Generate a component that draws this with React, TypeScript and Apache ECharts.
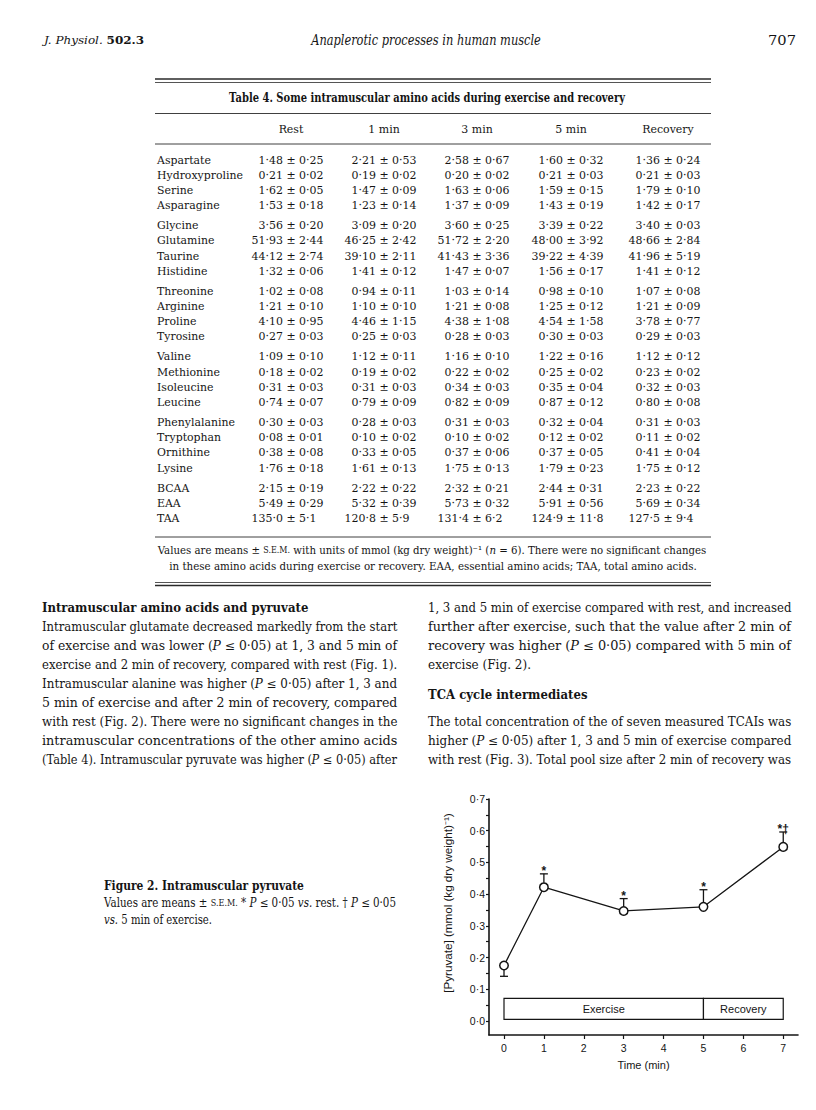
import React, { useEffect, useRef } from 'react';
import * as echarts from 'echarts';

// ---------------- Figure 2 data ----------------
const timeMin = [0, 1, 3, 5, 7];
const pyruvateMean = [0.175, 0.422, 0.347, 0.36, 0.549];
const pyruvateSem = [0.034, 0.042, 0.039, 0.054, 0.047];
const semSide = [-1, 1, 1, 1, 1];
const sigMarks = ['', '*', '*', '*', '*†'];
const phaseLabels = ['Exercise', 'Recovery'];
const phaseFrom = [0, 5];
const phaseTo = [5, 7];
const yTickLabels = [0, 0.1, 0.2, 0.3, 0.4, 0.5, 0.6, 0.7];
const yTickMarks = [0, 0.05, 0.1, 0.15, 0.2, 0.25, 0.3, 0.35, 0.4, 0.45, 0.5, 0.55, 0.6, 0.65, 0.7];
const xTickLabels = [0, 1, 2, 3, 4, 5, 6, 7];

// ---------------- Table 4 data ----------------
const tableHeads = ['Rest', '1 min', '3 min', '5 min', 'Recovery'];
const aminoAcids = ['Aspartate', 'Hydroxyproline', 'Serine', 'Asparagine', 'Glycine', 'Glutamine', 'Taurine', 'Histidine', 'Threonine', 'Arginine', 'Proline', 'Tyrosine', 'Valine', 'Methionine', 'Isoleucine', 'Leucine', 'Phenylalanine', 'Tryptophan', 'Ornithine', 'Lysine', 'BCAA', 'EAA', 'TAA'];
const restCol = ['1·48 ± 0·25', '0·21 ± 0·02', '1·62 ± 0·05', '1·53 ± 0·18', '3·56 ± 0·20', '51·93 ± 2·44', '44·12 ± 2·74', '1·32 ± 0·06', '1·02 ± 0·08', '1·21 ± 0·10', '4·10 ± 0·95', '0·27 ± 0·03', '1·09 ± 0·10', '0·18 ± 0·02', '0·31 ± 0·03', '0·74 ± 0·07', '0·30 ± 0·03', '0·08 ± 0·01', '0·38 ± 0·08', '1·76 ± 0·18', '2·15 ± 0·19', '5·49 ± 0·29', '135·0 ± 5·1'];
const min1Col = ['2·21 ± 0·53', '0·19 ± 0·02', '1·47 ± 0·09', '1·23 ± 0·14', '3·09 ± 0·20', '46·25 ± 2·42', '39·10 ± 2·11', '1·41 ± 0·12', '0·94 ± 0·11', '1·10 ± 0·10', '4·46 ± 1·15', '0·25 ± 0·03', '1·12 ± 0·11', '0·19 ± 0·02', '0·31 ± 0·03', '0·79 ± 0·09', '0·28 ± 0·03', '0·10 ± 0·02', '0·33 ± 0·05', '1·61 ± 0·13', '2·22 ± 0·22', '5·32 ± 0·39', '120·8 ± 5·9'];
const min3Col = ['2·58 ± 0·67', '0·20 ± 0·02', '1·63 ± 0·06', '1·37 ± 0·09', '3·60 ± 0·25', '51·72 ± 2·20', '41·43 ± 3·36', '1·47 ± 0·07', '1·03 ± 0·14', '1·21 ± 0·08', '4·38 ± 1·08', '0·28 ± 0·03', '1·16 ± 0·10', '0·22 ± 0·02', '0·34 ± 0·03', '0·82 ± 0·09', '0·31 ± 0·03', '0·10 ± 0·02', '0·37 ± 0·06', '1·75 ± 0·13', '2·32 ± 0·21', '5·73 ± 0·32', '131·4 ± 6·2'];
const min5Col = ['1·60 ± 0·32', '0·21 ± 0·03', '1·59 ± 0·15', '1·43 ± 0·19', '3·39 ± 0·22', '48·00 ± 3·92', '39·22 ± 4·39', '1·56 ± 0·17', '0·98 ± 0·10', '1·25 ± 0·12', '4·54 ± 1·58', '0·30 ± 0·03', '1·22 ± 0·16', '0·25 ± 0·02', '0·35 ± 0·04', '0·87 ± 0·12', '0·32 ± 0·04', '0·12 ± 0·02', '0·37 ± 0·05', '1·79 ± 0·23', '2·44 ± 0·31', '5·91 ± 0·56', '124·9 ± 11·8'];
const recoveryCol = ['1·36 ± 0·24', '0·21 ± 0·03', '1·79 ± 0·10', '1·42 ± 0·17', '3·40 ± 0·03', '48·66 ± 2·84', '41·96 ± 5·19', '1·41 ± 0·12', '1·07 ± 0·08', '1·21 ± 0·09', '3·78 ± 0·77', '0·29 ± 0·03', '1·12 ± 0·12', '0·23 ± 0·02', '0·32 ± 0·03', '0·80 ± 0·08', '0·31 ± 0·03', '0·11 ± 0·02', '0·41 ± 0·04', '1·75 ± 0·12', '2·23 ± 0·22', '5·69 ± 0·34', '127·5 ± 9·4'];
const tableColumns = [restCol, min1Col, min3Col, min5Col, recoveryCol];

// ---------------- Page texts ----------------
const tableTitle = 'Table 4. Some intramuscular amino acids during exercise and recovery';
const tableNote1 = 'Values are means ± <sc>S.E.M.</sc> with units of mmol (kg dry weight)⁻¹ (<i>n</i> = 6). There were no significant changes';
const tableNote2 = 'in these amino acids during exercise or recovery. EAA, essential amino acids; TAA, total amino acids.';
const leftHeading = 'Intramuscular amino acids and pyruvate';
const leftLines = [
  'Intramuscular glutamate decreased markedly from the start',
  'of exercise and was lower (<i>P</i> ≤ 0·05) at 1, 3 and 5 min of',
  'exercise and 2 min of recovery, compared with rest (Fig. 1).',
  'Intramuscular alanine was higher (<i>P</i> ≤ 0·05) after 1, 3 and',
  '5 min of exercise and after 2 min of recovery, compared',
  'with rest (Fig. 2). There were no significant changes in the',
  'intramuscular concentrations of the other amino acids',
  '(Table 4). Intramuscular pyruvate was higher (<i>P</i> ≤ 0·05) after',
];
const rightLinesA = [
  '1, 3 and 5 min of exercise compared with rest, and increased',
  'further after exercise, such that the value after 2 min of',
  'recovery was higher (<i>P</i> ≤ 0·05) compared with 5 min of',
  'exercise (Fig. 2).',
];
const rightHeading = 'TCA cycle intermediates';
const rightLinesB = [
  'The total concentration of the of seven measured TCAIs was',
  'higher (<i>P</i> ≤ 0·05) after 1, 3 and 5 min of exercise compared',
  'with rest (Fig. 3). Total pool size after 2 min of recovery was',
];
const captionTitle = 'Figure 2. Intramuscular pyruvate';
const captionLines = [
  'Values are means ± <sc>S.E.M.</sc> * <i>P</i> ≤ 0·05 <i>vs.</i> rest. † <i>P</i> ≤ 0·05',
  '<i>vs.</i> 5 min of exercise.',
];

// ---------------- Styling / layout ----------------
const INK = '#151515';
const SERIF = '"DejaVu Serif", "Liberation Serif", serif';
const SANS = '"Liberation Sans", Arial, sans-serif';

const L = {
  headerY: 40,
  tblL: 155, tblR: 711,
  ruleTop1: 79, ruleTop2: 82.5, titleY: 98, rule2: 113.5, headY: 129, rule3: 144,
  row0: 160, rowStep: 15.2, groupGap: 4.8,
  rule4: 537, foot1: 550, foot2: 566, ruleBot1: 582.5, ruleBot2: 585.5,
  labelX: 157, colX: [291, 384, 477, 571, 668],
  leftX0: 42, leftX1: 397, rightX0: 428, rightX1: 791,
  bodyY0: 608, bodyStep: 19,
  capX: 104, capY0: 886, capStep: 17,
  gridL: 489, gridT: 799, gridW: 309, gridH: 236,
};
const PHASE_BOX_LOW = 0.005;
const PHASE_BOX_HIGH = 0.0715;

let mctx: CanvasRenderingContext2D | null = null;
function measure(text: string, font: string): number {
  if (!mctx) mctx = document.createElement('canvas').getContext('2d');
  mctx!.font = font;
  return mctx!.measureText(text).width;
}
type Seg = { text: string; tag: string };
function parse(markup: string): Seg[] {
  const out: Seg[] = [];
  const re = /<(i|b|sc)>(.*?)<\/\1>/g;
  let last = 0;
  let m: RegExpExecArray | null;
  while ((m = re.exec(markup))) {
    if (m.index > last) out.push({ text: markup.slice(last, m.index), tag: '' });
    out.push({ text: m[2], tag: m[1] });
    last = re.lastIndex;
  }
  if (last < markup.length) out.push({ text: markup.slice(last), tag: '' });
  return out;
}
type Base = { family: string; size: number; weight?: string; italic?: boolean };
function tagStyle(base: Base, tag: string) {
  const s: any = {
    fontFamily: base.family,
    fontSize: base.size,
    fontWeight: base.weight || 'normal',
    fontStyle: base.italic ? 'italic' : 'normal',
  };
  if (tag === 'i') s.fontStyle = 'italic';
  if (tag === 'b') s.fontWeight = 'bold';
  if (tag === 'sc') s.fontSize = base.size * 0.78;
  return s;
}
function cssFont(s: any) {
  return `${s.fontStyle} ${s.fontWeight} ${s.fontSize}px ${s.fontFamily}`;
}
function natWidth(markup: string, base: Base) {
  return parse(markup).reduce((a, s) => a + measure(s.text, cssFont(tagStyle(base, s.tag))), 0);
}
function textEl(markup: string, x: number, y: number, base: Base, o: { align?: string; width?: number; scaleX?: number; rotation?: number } = {}) {
  const segs = parse(markup);
  const nat = natWidth(markup, base);
  const sx = o.width ? o.width / nat : o.scaleX ?? 1;
  const rich: any = {};
  let text = '';
  for (const s of segs) {
    if (!s.tag) text += s.text;
    else {
      text += `{${s.tag}|${s.text}}`;
      rich[s.tag] = { ...tagStyle(base, s.tag), fill: INK };
    }
  }
  const align = o.align || 'left';
  return {
    type: 'text', x, y, scaleX: sx, rotation: o.rotation || 0, silent: true,
    style: {
      text, ...tagStyle(base, ''), fill: INK,
      align, verticalAlign: 'middle', textAlign: align, textVerticalAlign: 'middle', rich,
    },
  };
}
function hline(x1: number, x2: number, y: number, w: number) {
  return { type: 'line', silent: true, shape: { x1, y1: y, x2, y2: y }, style: { stroke: '#2a2a2a', lineWidth: w } };
}
function fontFor(lines: string[], width: number, family: string, fill = 1) {
  const avg = lines.reduce((a, t) => a + natWidth(t, { family, size: 10 }), 0) / lines.length;
  return (10 * width * fill) / avg;
}

function pageGraphics() {
  const els: any[] = [];
  // header
  els.push(textEl('<i>J. Physiol.</i> <b>502.3</b>', 44, L.headerY, { family: SERIF, size: 11.5 }, { width: 100 }));
  els.push(textEl('Anaplerotic processes in human muscle', 426, L.headerY, { family: SERIF, size: 14.5, italic: true }, { align: 'center', width: 230 }));
  els.push(textEl('707', 796, L.headerY, { family: SERIF, size: 13 }, { align: 'right', width: 28 }));

  // table
  const lblSize = (10 * 86) / measure('Hydroxyproline', `normal normal 10px ${SERIF}`);
  const valSize = (10 * 65) / measure('1·48 ± 0·25', `normal normal 10px ${SERIF}`);
  const valFont = `normal normal ${valSize}px ${SERIF}`;
  const pmOffset = (cell: string) => {
    const k = cell.indexOf('±');
    return measure(cell.slice(0, k), valFont) + measure('±', valFont) / 2;
  };
  els.push(hline(L.tblL, L.tblR, L.ruleTop1, 1.6));
  els.push(hline(L.tblL, L.tblR, L.ruleTop2, 0.8));
  els.push(textEl(tableTitle, 427, L.titleY, { family: SERIF, size: 12, weight: 'bold' }, { align: 'center', width: 396 }));
  els.push(hline(L.tblL, L.tblR, L.rule2, 0.9));
  tableHeads.forEach((h, j) => els.push(textEl(h, L.colX[j], L.headY, { family: SERIF, size: valSize }, { align: 'center' })));
  els.push(hline(L.tblL, L.tblR, L.rule3, 0.9));
  const pmX = tableColumns.map((col, j) => L.colX[j] - measure(col[0], valFont) / 2 + pmOffset(col[0]));
  aminoAcids.forEach((name, i) => {
    const y = L.row0 + i * L.rowStep + Math.floor(i / 4) * L.groupGap;
    els.push(textEl(name, L.labelX, y, { family: SERIF, size: lblSize }));
    tableColumns.forEach((col, j) => els.push(textEl(col[i], pmX[j] - pmOffset(col[i]), y, { family: SERIF, size: valSize })));
  });
  els.push(hline(L.tblL, L.tblR, L.rule4, 0.9));
  els.push(textEl(tableNote1, 432, L.foot1, { family: SERIF, size: 11 }, { align: 'center', width: 549 }));
  els.push(textEl(tableNote2, 433, L.foot2, { family: SERIF, size: 11 }, { align: 'center', width: 528 }));
  els.push(hline(L.tblL, L.tblR, L.ruleBot1, 0.8));
  els.push(hline(L.tblL, L.tblR, L.ruleBot2, 1.6));

  // body columns
  const lw = L.leftX1 - L.leftX0;
  const rw = L.rightX1 - L.rightX0;
  const bodySize = fontFor([...leftLines, ...rightLinesA.slice(0, 3), ...rightLinesB], (lw + rw) / 2, SERIF);
  const body: Base = { family: SERIF, size: bodySize };
  const yAt = (k: number) => L.bodyY0 + k * L.bodyStep;
  els.push(textEl(leftHeading, L.leftX0, yAt(0), { family: SERIF, size: bodySize, weight: 'bold' }, { scaleX: 0.97 }));
  leftLines.forEach((t, k) => els.push(textEl(t, L.leftX0, yAt(k + 1), body, { width: lw })));
  rightLinesA.forEach((t, k) => {
    const last = k === rightLinesA.length - 1;
    els.push(textEl(t, L.rightX0, yAt(k), body, last ? { scaleX: 1 } : { width: rw }));
  });
  els.push(textEl(rightHeading, L.rightX0, yAt(4.6), { family: SERIF, size: bodySize, weight: 'bold' }, { scaleX: 0.97 }));
  rightLinesB.forEach((t, k) => els.push(textEl(t, L.rightX0, yAt(6 + k), body, { width: rw })));

  // caption
  els.push(textEl(captionTitle, L.capX, L.capY0, { family: SERIF, size: 12.5, weight: 'bold' }, { width: 200 }));
  els.push(textEl(captionLines[0], L.capX, L.capY0 + L.capStep, { family: SERIF, size: 12 }, { width: 292 }));
  els.push(textEl(captionLines[1], L.capX, L.capY0 + 2 * L.capStep, { family: SERIF, size: 12 }, { width: 108 }));

  // y axis title of the figure
  els.push(textEl('[Pyruvate] (mmol (kg dry weight)⁻¹)', 448, 903, { family: SANS, size: 10.5 }, { align: 'center', width: 180, rotation: Math.PI / 2 }));
  return els;
}

function buildOption(): any {
  const axisText = { color: INK, fontFamily: SANS, fontSize: 10.5 };
  return {
    animation: false,
    backgroundColor: '#ffffff',
    grid: { left: L.gridL, top: L.gridT, width: L.gridW, height: L.gridH, containLabel: false, outerBoundsMode: 'none' },
    xAxis: {
      type: 'value', min: -0.376, max: 7.37,
      axisLine: { show: true, onZero: false, lineStyle: { color: INK, width: 1.6 } },
      axisTick: { show: true, customValues: xTickLabels, length: 4, lineStyle: { color: INK, width: 1.2 } },
      axisLabel: { show: true, customValues: xTickLabels, margin: 7, ...axisText, formatter: (v: number) => String(Math.round(v)) },
      splitLine: { show: false },
      name: 'Time (min)', nameLocation: 'middle', nameGap: 24, nameTextStyle: { ...axisText, fontSize: 11 },
    },
    yAxis: {
      type: 'value', min: -0.044, max: 0.7,
      axisLine: { show: true, onZero: false, lineStyle: { color: INK, width: 1.6 } },
      axisTick: { show: true, customValues: yTickMarks, length: 3, lineStyle: { color: INK, width: 1.2 } },
      axisLabel: { show: true, customValues: yTickLabels, margin: 4, ...axisText, formatter: (v: number) => v.toFixed(1).replace('.', '·') },
      splitLine: { show: false },
    },
    series: [
      {
        type: 'custom', z: 1, silent: true,
        data: phaseLabels.map((_, i) => [phaseFrom[i], phaseTo[i], i]),
        renderItem: (_p: any, api: any) => {
          const i = api.value(2);
          const a = api.coord([api.value(0), PHASE_BOX_HIGH]);
          const b = api.coord([api.value(1), PHASE_BOX_LOW]);
          return {
            type: 'group',
            children: [
              { type: 'rect', shape: { x: a[0], y: a[1], width: b[0] - a[0], height: b[1] - a[1] }, style: { fill: '#fff', stroke: INK, lineWidth: 1.2 } },
              { type: 'text', x: (a[0] + b[0]) / 2, y: (a[1] + b[1]) / 2, style: { text: phaseLabels[i], align: 'center', verticalAlign: 'middle', textAlign: 'center', textVerticalAlign: 'middle', fontFamily: SANS, fontSize: 11, fill: INK } },
            ],
          };
        },
      },
      {
        type: 'custom', z: 2, silent: true,
        data: timeMin.map((t, i) => [t, pyruvateMean[i], pyruvateMean[i] + semSide[i] * pyruvateSem[i], i]),
        renderItem: (_p: any, api: any) => {
          const m = api.value(1);
          const e = api.value(2);
          const i = api.value(3);
          const pm = api.coord([api.value(0), m]);
          const pe = api.coord([api.value(0), e]);
          const dir = e > m ? -1 : 1;
          const children: any[] = [
            { type: 'line', shape: { x1: pm[0], y1: pm[1] + dir * 4.5, x2: pe[0], y2: pe[1] }, style: { stroke: INK, lineWidth: 1.3 } },
            { type: 'line', shape: { x1: pe[0] - 4, y1: pe[1], x2: pe[0] + 4, y2: pe[1] }, style: { stroke: INK, lineWidth: 1.3 } },
          ];
          if (sigMarks[i]) {
            children.push({ type: 'text', x: pe[0], y: pe[1] - 3, style: { text: sigMarks[i], align: 'center', verticalAlign: 'middle', textAlign: 'center', textVerticalAlign: 'middle', fontFamily: SANS, fontSize: 12, fontWeight: 'bold', fill: INK } });
          }
          return { type: 'group', children };
        },
      },
      {
        type: 'line', z: 3, silent: true,
        data: timeMin.map((t, i) => [t, pyruvateMean[i]]),
        symbol: 'circle', symbolSize: 8.5,
        lineStyle: { color: INK, width: 1.3 },
        itemStyle: { color: '#ffffff', borderColor: INK, borderWidth: 1.5 },
      },
    ],
    graphic: { elements: pageGraphics() },
  };
}

export default function App() {
  const ref = useRef<HTMLDivElement>(null);
  useEffect(() => {
    const chart = echarts.init(ref.current!, null, { renderer: 'svg' });
    chart.setOption(buildOption());
    return () => chart.dispose();
  }, []);
  return <div ref={ref} style={{ position: 'absolute', left: 0, top: 0, width: 816, height: 1110, background: '#fff' }} />;
}
